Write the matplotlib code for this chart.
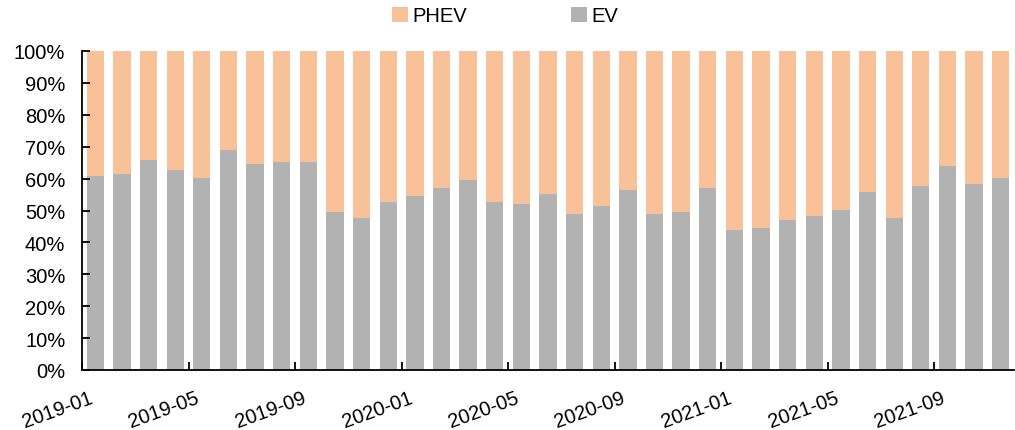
import numpy as np
import pandas as pd
import matplotlib
matplotlib.use('Agg')
import matplotlib.pyplot as plt

plt.rcParams['font.family'] = ['Liberation Sans', 'DejaVu Sans']

# meses 2019-01 .. 2021-11
meses = [str(p) for p in pd.period_range('2019-01', '2021-11', freq='M')]

# participação do EV (%)
ev = [60.7, 61.5, 65.8, 62.6, 60.1, 69.0, 64.5, 65.1, 65.1, 49.4,
      47.5, 52.6, 54.5, 57.0, 59.5, 52.6, 51.9, 55.1, 48.8, 51.3,
      56.3, 48.8, 49.4, 57.0, 43.8, 44.4, 46.9, 48.2, 50.1, 55.7,
      47.5, 57.6, 63.9, 58.2, 60.1]
phev = [100 - v for v in ev]

cor_phev = '#F8C198'
cor_ev = '#B2B2B2'
fs = 14.5

fig = plt.figure(figsize=(10.15, 4.31), dpi=100)
ax = fig.add_axes([82 / 1015, 1 - 371 / 431, 1 - 82 / 1015 - 0.001, (371 - 52) / 431])

x = np.arange(len(meses))
b_ev = ax.bar(x, ev, width=0.65, color=cor_ev, label='EV')
b_phev = ax.bar(x, phev, bottom=ev, width=0.65, color=cor_phev, label='PHEV')

ax.set_xlim(-0.5, len(meses) - 0.5)
ax.set_ylim(0, 100)

# eixo y
ax.set_yticks(np.arange(0, 101, 10))
ax.set_yticklabels(['%d%%' % v for v in range(0, 101, 10)], fontsize=fs)
ax.tick_params(axis='y', direction='in', length=6, width=1.3, pad=12, colors='black')

# eixo x: rótulos no centro da categoria, marcas entre categorias
pos = x[::4]
ax.set_xticks(pos)
ax.set_xticklabels([meses[i] for i in pos], fontsize=fs, rotation=20, ha='right')
ax.tick_params(axis='x', which='major', length=0, pad=13)
ax.set_xticks(np.arange(-0.5, len(meses) - 0.5, 4), minor=True)
ax.tick_params(axis='x', which='minor', direction='in', length=6, width=1.3)

for s in ['top', 'right']:
    ax.spines[s].set_visible(False)
for s in ['left', 'bottom']:
    ax.spines[s].set_linewidth(1.3)
    ax.spines[s].set_color('black')

fig.legend([b_phev, b_ev], ['PHEV', 'EV'], loc='center',
           bbox_to_anchor=(505 / 1015, 1 - 17 / 431), ncol=2, frameon=False,
           fontsize=fs, handlelength=0.8, handleheight=0.8, handletextpad=0.2,
           columnspacing=5.2)

fig.savefig('out.png', dpi=100)
